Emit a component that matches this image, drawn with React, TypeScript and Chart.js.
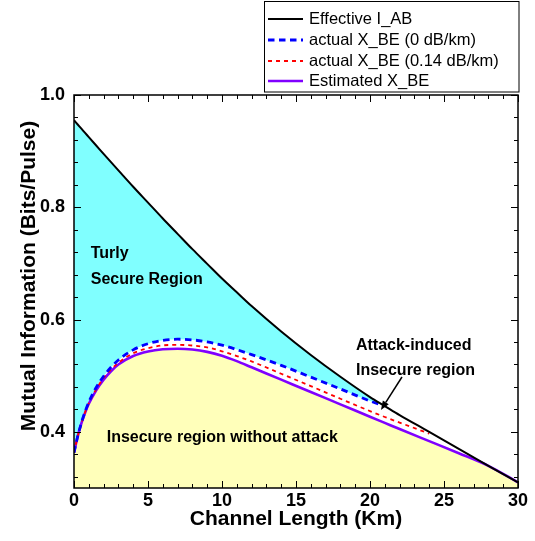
import React, { useEffect, useRef } from "react";
import { Chart, registerables } from "chart.js";

Chart.register(...registerables);

// ---------- data ----------
const channelLength = [0, 0.25, 0.5, 0.75, 1, 1.5, 2, 2.5, 3, 4, 5, 6, 7, 8, 9, 10, 11, 12, 14, 16, 18, 20, 21, 22, 24, 26, 28, 30];
const effectiveIAB = [0.955, 0.9475, 0.94, 0.9325, 0.925, 0.91, 0.895, 0.8804, 0.8658, 0.8366, 0.8083, 0.78, 0.7527, 0.7254, 0.6992, 0.673, 0.6485, 0.624, 0.5788, 0.537, 0.4982, 0.462, 0.446, 0.430, 0.400, 0.3695, 0.3395, 0.310];
const actualXBE0dB = [0.363, 0.392, 0.416, 0.436, 0.453, 0.479, 0.499, 0.515, 0.528, 0.546, 0.557, 0.563, 0.565, 0.5638, 0.5603, 0.5545, 0.5465, 0.5375, 0.5185, 0.4975, 0.4765, 0.455, 0.446, null, null, null, null, null];
const actualXBE014dB = [0.363, 0.392, 0.415, 0.435, 0.451, 0.476, 0.496, 0.511, 0.523, 0.540, 0.549, 0.554, 0.555, 0.5538, 0.5505, 0.5435, 0.535, 0.5255, 0.5035, 0.4815, 0.459, 0.437, 0.4265, 0.4165, 0.397, null, null, null];
const estimatedXBE = [0.363, 0.392, 0.415, 0.434, 0.450, 0.474, 0.493, 0.508, 0.520, 0.535, 0.543, 0.547, 0.548, 0.5466, 0.5425, 0.5356, 0.526, 0.515, 0.493, 0.471, 0.449, 0.427, 0.416, 0.405, 0.3835, 0.362, 0.3395, 0.310];

const xTickValues = [0, 5, 10, 15, 20, 25, 30];
const yTickValues = [0.4, 0.6, 0.8, 1.0];

const seriesLabels = ["Effective I_AB", "actual X_BE (0 dB/km)", "actual X_BE (0.14 dB/km)", "Estimated X_BE"];

const regionLabels = [
  { text: "Turly", x: 1.13, y: 0.7105 },
  { text: "Secure Region", x: 1.13, y: 0.6642 },
  { text: "Attack-induced", x: 19.05, y: 0.5458 },
  { text: "Insecure region", x: 19.05, y: 0.5012 },
  { text: "Insecure region without attack", x: 2.21, y: 0.3828 },
];
const arrowFrom = { x: 22.16, y: 0.4977 };
const arrowTo = { x: 20.74, y: 0.4389 };

const FONT = '"Liberation Sans", Arial, Helvetica, sans-serif';
const CYAN = "#80FFFF";
const YELLOW = "#FFFFBA";

const toPoints = (ys: (number | null)[]) => channelLength.map((x, i) => ({ x, y: ys[i] }));

// ---------- plugins ----------
const framePlugin = {
  id: "frameTicks",
  afterDatasetsDraw(chart: any) {
    const { ctx, chartArea } = chart;
    const { left, right, top, bottom } = chartArea;
    const xs = chart.scales.x;
    const ys = chart.scales.y;
    ctx.save();
    ctx.strokeStyle = "#000";
    ctx.lineWidth = 1;
    ctx.beginPath();
    for (let v = 0; v <= 30; v += 1) {
      const p = Math.round(xs.getPixelForValue(v)) + 0.5;
      const len = v % 5 === 0 ? 7 : 4;
      ctx.moveTo(p, bottom);
      ctx.lineTo(p, bottom - len);
      ctx.moveTo(p, top);
      ctx.lineTo(p, top + len);
    }
    for (let k = 0; k <= 17; k++) {
      const v = 0.32 + k * 0.04;
      const p = Math.round(ys.getPixelForValue(v)) + 0.5;
      const r = Math.round(v * 100) % 20;
      const len = r === 0 ? 7 : 4;
      ctx.moveTo(left, p);
      ctx.lineTo(left + len, p);
      ctx.moveTo(right, p);
      ctx.lineTo(right - len, p);
    }
    ctx.stroke();
    ctx.lineWidth = 1.5;
    ctx.strokeRect(left, top, right - left, bottom - top);
    ctx.restore();
  },
};

const annotationPlugin = {
  id: "annotations",
  afterDatasetsDraw(chart: any) {
    const { ctx } = chart;
    const xs = chart.scales.x;
    const ys = chart.scales.y;
    ctx.save();
    ctx.fillStyle = "#000";
    ctx.font = `bold 16px ${FONT}`;
    ctx.textAlign = "left";
    ctx.textBaseline = "alphabetic";
    regionLabels.forEach((r) => {
      ctx.fillText(r.text, xs.getPixelForValue(r.x), ys.getPixelForValue(r.y));
    });
    const x1 = xs.getPixelForValue(arrowFrom.x);
    const y1 = ys.getPixelForValue(arrowFrom.y);
    const x2 = xs.getPixelForValue(arrowTo.x);
    const y2 = ys.getPixelForValue(arrowTo.y);
    const ang = Math.atan2(y2 - y1, x2 - x1);
    const head = 9;
    const hw = 3.5;
    const bx = x2 - head * Math.cos(ang);
    const by = y2 - head * Math.sin(ang);
    ctx.strokeStyle = "#000";
    ctx.lineWidth = 1.5;
    ctx.beginPath();
    ctx.moveTo(x1, y1);
    ctx.lineTo(bx, by);
    ctx.stroke();
    ctx.beginPath();
    ctx.moveTo(x2, y2);
    ctx.lineTo(bx + hw * Math.sin(ang), by - hw * Math.cos(ang));
    ctx.lineTo(bx - hw * Math.sin(ang), by + hw * Math.cos(ang));
    ctx.closePath();
    ctx.fill();
    ctx.restore();
  },
};

const yTitlePlugin = {
  id: "yTitle",
  afterDraw(chart: any) {
    const { ctx } = chart;
    ctx.save();
    ctx.translate(35, 276);
    ctx.rotate(-Math.PI / 2);
    ctx.fillStyle = "#000";
    ctx.font = `bold 21px ${FONT}`;
    ctx.textAlign = "center";
    ctx.textBaseline = "alphabetic";
    ctx.fillText("Mutual Information (Bits/Pulse)", 0, 0);
    ctx.restore();
  },
};

const legendPlugin = {
  id: "boxLegend",
  afterDraw(chart: any) {
    const { ctx } = chart;
    const bx = 264.5, by = 1.5, bw = 254.5, bh = 90.5;
    ctx.save();
    ctx.fillStyle = "#fff";
    ctx.fillRect(bx, by, bw, bh);
    ctx.strokeStyle = "#000";
    ctx.lineWidth = 1;
    ctx.strokeRect(bx, by, bw, bh);
    const rows = [19, 40, 61, 81];
    chart.data.datasets.forEach((ds: any, i: number) => {
      const y = rows[i];
      ctx.save();
      ctx.strokeStyle = ds.borderColor;
      ctx.lineWidth = i === 0 ? 2 : ds.borderWidth;
      ctx.setLineDash(ds.borderDash || []);
      ctx.beginPath();
      ctx.moveTo(268, y);
      ctx.lineTo(303, y);
      ctx.stroke();
      ctx.restore();
      ctx.fillStyle = "#000";
      ctx.font = `16.5px ${FONT}`;
      ctx.textAlign = "left";
      ctx.textBaseline = "middle";
      ctx.fillText(seriesLabels[i], 309, y + 0.5);
    });
    ctx.restore();
  },
};

export default function App() {
  const ref = useRef<HTMLCanvasElement | null>(null);

  useEffect(() => {
    if (!ref.current) return;
    Chart.defaults.font.family = FONT;
    const common = { pointRadius: 0, cubicInterpolationMode: "monotone" };
    const chart = new Chart(ref.current, {
      type: "line",
      data: {
        datasets: [
          {
            ...common,
            label: seriesLabels[0],
            data: toPoints(effectiveIAB),
            borderColor: "#000000",
            borderWidth: 2,
            fill: false,
          },
          {
            ...common,
            label: seriesLabels[1],
            data: toPoints(actualXBE0dB),
            borderColor: "#0000FF",
            borderWidth: 2.8,
            borderDash: [6.5, 4.5],
            fill: { target: 0, above: CYAN, below: CYAN },
          },
          {
            ...common,
            label: seriesLabels[2],
            data: toPoints(actualXBE014dB),
            borderColor: "#FF0000",
            borderWidth: 1.8,
            borderDash: [4, 4],
            fill: false,
          },
          {
            ...common,
            label: seriesLabels[3],
            data: toPoints(estimatedXBE),
            borderColor: "#8000FF",
            backgroundColor: YELLOW,
            borderWidth: 2.6,
            fill: "start",
          },
        ],
      } as any,
      options: {
        animation: false,
        responsive: false,
        devicePixelRatio: 1,
        layout: { padding: { top: 95, right: 17, left: 0, bottom: 0 } },
        plugins: {
          legend: { display: false },
          tooltip: { enabled: false },
          filler: { drawTime: "beforeDatasetsDraw" },
        } as any,
        scales: {
          x: {
            type: "linear",
            min: 0,
            max: 30,
            grid: { display: false, drawTicks: false },
            border: { display: false },
            afterBuildTicks: (s: any) => {
              s.ticks = xTickValues.map((v) => ({ value: v }));
            },
            afterFit: (s: any) => {
              s.height = 53;
            },
            ticks: {
              padding: 2,
              color: "#000",
              font: { size: 18, weight: "bold", family: FONT },
              callback: (v: any) => String(v),
            },
            title: {
              display: true,
              text: "Channel Length (Km)",
              color: "#000",
              font: { size: 21, weight: "bold", family: FONT },
              padding: { top: 0, bottom: 9 },
            },
          },
          y: {
            type: "linear",
            min: 0.3,
            max: 1.0,
            grid: { display: false, drawTicks: false },
            border: { display: false },
            afterBuildTicks: (s: any) => {
              s.ticks = yTickValues.map((v) => ({ value: v }));
            },
            afterFit: (s: any) => {
              s.width = 74;
            },
            ticks: {
              padding: 9,
              color: "#000",
              font: { size: 18, weight: "bold", family: FONT },
              callback: (v: any) => Number(v).toFixed(1),
            },
          },
        },
      } as any,
      plugins: [framePlugin, annotationPlugin, yTitlePlugin, legendPlugin],
    });
    return () => chart.destroy();
  }, []);

  return (
    <div style={{ position: "fixed", left: 0, top: 0, width: 535, height: 541, background: "#fff" }}>
      <canvas ref={ref} width={535} height={541} style={{ display: "block" }} />
    </div>
  );
}
